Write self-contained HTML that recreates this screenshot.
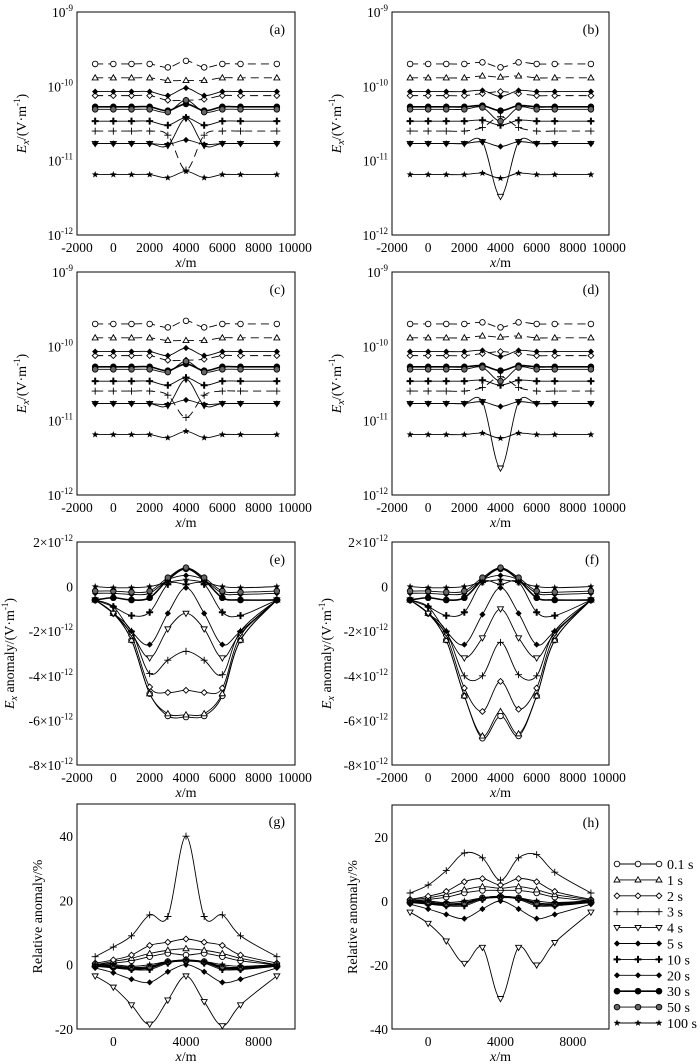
<!DOCTYPE html>
<html><head><meta charset="utf-8">
<style>
html,body{margin:0;padding:0;background:#fff;}
svg{display:block;font-family:"Liberation Serif","DejaVu Serif",serif;}
text{font-family:"Liberation Serif","DejaVu Serif",serif;}
</style></head>
<body>
<svg id="fig" width="700" height="1064" viewBox="0 0 700 1064" font-family="Liberation Serif, serif" xmlns="http://www.w3.org/2000/svg"></svg>
<script>
const xs=[-1000,0,1000,2000,3000,4000,5000,6000,7000,9000];
const seriesNames=['0.1 s','1 s','2 s','3 s','4 s','5 s','10 s','20 s','30 s','50 s','100 s'];
const markerTypes=['circle','tri','diamond','plus','tridown','fdiamond','fplus','fdiamond','fcircle','hex','star'];
// log panels, values in units of 1e-11 V/m
const panelA=[
[20,20,20,20,18,22,18,20,20,20],
[13,13,13,13,12,12,12,13,13,13],
[7.5,7.5,7.5,7.5,6.5,6.5,6.7,7.5,7.5,7.5],
[2.5,2.5,2.5,2.5,2.2,0.75,2.2,2.5,2.5,2.5],
[1.7,1.7,1.7,1.7,1.6,3.7,1.6,1.7,1.7,1.7],
[1.7,1.7,1.7,1.7,1.65,1.9,1.65,1.7,1.7,1.7],
[3.4,3.4,3.4,3.4,3.0,3.8,3.0,3.4,3.4,3.4],
[8.5,8.5,8.5,8.5,7.5,9.5,7.5,8.5,8.5,8.5],
[5.3,5.3,5.3,5.3,4.7,5.8,4.7,5.3,5.3,5.3],
[4.9,4.9,4.9,4.9,4.5,6.5,4.5,4.9,4.9,4.9],
[0.65,0.65,0.65,0.65,0.59,0.72,0.59,0.65,0.65,0.65]];
const panelB=[
[20,20,20,20,21,18,21,20,20,20],
[13,13,13,13,13.8,13.3,13.8,13,13,13],
[7.5,7.5,7.5,7.5,8,8.5,8,7.5,7.5,7.5],
[2.5,2.5,2.5,2.5,2.8,3.9,2.8,2.5,2.5,2.5],
[1.7,1.7,1.7,1.7,1.8,0.33,1.8,1.7,1.7,1.7],
[1.7,1.7,1.7,1.7,1.8,1.55,1.8,1.7,1.7,1.7],
[3.4,3.4,3.4,3.4,3.5,3.0,3.5,3.4,3.4,3.4],
[8.5,8.5,8.5,8.5,8.8,7.3,8.8,8.5,8.5,8.5],
[5.3,5.3,5.3,5.3,5.5,4.7,5.5,5.3,5.3,5.3],
[4.9,4.9,4.9,4.9,5.2,3.4,5.2,4.9,4.9,4.9],
[0.65,0.65,0.65,0.65,0.68,0.58,0.68,0.65,0.65,0.65]];
const panelC=[
[20,20,20,20,18,22,18,20,20,20],
[13,13,13,13,12,12,12,13,13,13],
[7.5,7.5,7.5,7.5,6.5,6.5,6.7,7.5,7.5,7.5],
[2.5,2.5,2.5,2.5,2.2,1.1,2.2,2.5,2.5,2.5],
[1.7,1.7,1.7,1.7,1.6,3.6,1.6,1.7,1.7,1.7],
[1.7,1.7,1.7,1.7,1.65,1.9,1.65,1.7,1.7,1.7],
[3.4,3.4,3.4,3.4,3.0,3.8,3.0,3.4,3.4,3.4],
[8.5,8.5,8.5,8.5,7.5,9.5,7.5,8.5,8.5,8.5],
[5.3,5.3,5.3,5.3,4.7,5.8,4.7,5.3,5.3,5.3],
[4.9,4.9,4.9,4.9,4.5,6.3,4.5,4.9,4.9,4.9],
[0.65,0.65,0.65,0.65,0.59,0.72,0.59,0.65,0.65,0.65]];
const panelD=[
[20,20,20,20,21,18,21,20,20,20],
[13,13,13,13,13.8,13.3,13.8,13,13,13],
[7.5,7.5,7.5,7.5,8,8.5,8,7.5,7.5,7.5],
[2.5,2.5,2.5,2.5,2.8,3.9,2.8,2.5,2.5,2.5],
[1.7,1.7,1.7,1.7,1.8,0.23,1.8,1.7,1.7,1.7],
[1.7,1.7,1.7,1.7,1.8,1.55,1.8,1.7,1.7,1.7],
[3.4,3.4,3.4,3.4,3.5,3.0,3.5,3.4,3.4,3.4],
[8.5,8.5,8.5,8.5,8.8,7.3,8.8,8.5,8.5,8.5],
[5.3,5.3,5.3,5.3,5.5,4.7,5.5,5.3,5.3,5.3],
[4.9,4.9,4.9,4.9,5.2,3.4,5.2,4.9,4.9,4.9],
[0.65,0.65,0.65,0.65,0.68,0.58,0.68,0.65,0.65,0.65]];
// anomaly panels, units of 1e-12 V/m
const panelE=[
[-0.6,-1.2,-2.4,-4.8,-5.8,-5.85,-5.8,-4.9,-2.4,-0.6],
[-0.6,-1.2,-2.4,-4.8,-5.7,-5.75,-5.7,-4.8,-2.4,-0.6],
[-0.6,-1.2,-2.2,-4.5,-4.75,-4.65,-4.75,-4.55,-2.2,-0.6],
[-0.6,-1.2,-2.0,-3.9,-3.3,-2.9,-3.3,-3.95,-2.0,-0.6],
[-0.6,-1.2,-2.1,-3.2,-1.9,-1.2,-1.9,-3.2,-2.1,-0.6],
[-0.6,-0.9,-2.0,-2.6,-1.2,-0.05,-1.2,-2.6,-2.0,-0.6],
[-0.6,-0.9,-1.3,-1.15,0.1,0.1,0.1,-1.15,-1.3,-0.6],
[-0.3,-0.3,-0.35,-0.3,0.3,0.5,0.3,-0.3,-0.35,-0.3],
[-0.6,-0.5,-0.6,-0.5,0.3,0.8,0.3,-0.5,-0.6,-0.6],
[-0.2,-0.2,-0.25,-0.2,0.4,0.85,0.4,-0.2,-0.25,-0.2],
[0,-0.05,-0.05,0,0.2,0.3,0.2,0,-0.05,0]];
const panelF=[
[-0.6,-1.2,-2.4,-4.9,-6.8,-5.8,-6.7,-4.9,-2.4,-0.6],
[-0.6,-1.2,-2.4,-4.9,-6.7,-5.6,-6.6,-4.9,-2.4,-0.6],
[-0.6,-1.2,-2.2,-4.55,-5.6,-4.25,-5.5,-4.55,-2.2,-0.6],
[-0.6,-1.2,-2.0,-4.0,-4.0,-2.5,-3.95,-4.0,-2.0,-0.6],
[-0.6,-1.2,-2.1,-3.2,-2.3,-1.0,-2.3,-3.2,-2.1,-0.6],
[-0.6,-0.9,-2.0,-2.6,-1.25,-0.05,-1.2,-2.6,-2.0,-0.6],
[-0.6,-0.9,-1.3,-1.15,0.2,0.1,0.2,-1.15,-1.3,-0.6],
[-0.3,-0.3,-0.35,-0.3,0.3,0.5,0.3,-0.3,-0.35,-0.3],
[-0.6,-0.5,-0.6,-0.5,0.3,0.8,0.3,-0.5,-0.6,-0.6],
[-0.2,-0.2,-0.25,-0.2,0.4,0.85,0.4,-0.2,-0.25,-0.2],
[0,-0.05,-0.05,0,0.2,0.3,0.2,0,-0.05,0]];
// relative anomaly panels, %
const panelG=[
[0,0.5,1.2,2.5,3.5,3,3.5,2.5,1.2,0],
[0,1,2,3.5,4.5,5,4.5,3.5,2,0],
[0.5,1.5,3,6,7,8,7,6,3,0.5],
[2.5,5.5,9,15.5,15,40,15,15.5,9,2.5],
[-3.5,-7,-12.5,-18.5,-11,-3.5,-11.5,-19,-12.5,-3.5],
[-1,-2.5,-4.5,-5.5,-2.2,0,-2.2,-5.5,-4.5,-1],
[-0.5,-1,-1.5,-1.5,0.5,1.5,0.5,-1.5,-1.5,-0.5],
[0,-0.5,-1,-0.5,1,1.5,1,-0.5,-1,0],
[-0.3,-0.8,-1.2,-1,0.8,1.2,0.8,-1,-1.2,-0.3],
[0.2,-0.3,-0.8,-0.6,1,1.4,1,-0.6,-0.8,0.2],
[0,0,-0.5,0,1,1.5,1,0,-0.5,0]];
const panelH=[
[0,0.5,1.2,2.5,3.3,3.3,3.3,2.5,1.2,0],
[0.3,1,2,3.5,4.5,4,4.5,3.5,2,0.3],
[0.5,1.5,3,6,7,5,7,6,3,0.5],
[2.5,5,9.5,15,13.5,6.5,13.5,14.5,9,2.5],
[-3.5,-7,-12.5,-19.5,-14.5,-30.5,-14.5,-20,-13,-3.5],
[-1,-2.5,-4.2,-5.5,-2.5,0,-2.5,-5.5,-4.2,-1],
[-0.5,-1,-1.5,-1.5,0.5,1.5,0.5,-1.5,-1.5,-0.5],
[0,-0.5,-1,-0.5,1,1.5,1,-0.5,-1,0],
[-0.3,-0.8,-1.2,-1,0.8,1.2,0.8,-1,-1.2,-0.3],
[0.2,-0.3,-0.8,-0.6,1,1.4,1,-0.6,-0.8,0.2],
[0,0,-0.5,0,1,1.5,1,0,-0.5,0]];
const xTicksFull=[-2000,0,2000,4000,6000,8000,10000];
const xTicksRel=[0,4000,8000];
const logTicks=[-9,-10,-11,-12];
const anomTicks=[2,0,-2,-4,-6,-8];
const relTicksG=[40,20,0,-20];
const relTicksH=[20,0,-20,-40];

const NS='http://www.w3.org/2000/svg';
const svg=document.getElementById('fig');
function el(tag,attrs,parent){const e=document.createElementNS(NS,tag);for(const k in attrs)e.setAttribute(k,attrs[k]);(parent||svg).appendChild(e);return e;}
function crPath(pts){let d='M'+pts[0][0].toFixed(2)+','+pts[0][1].toFixed(2);
 for(let i=0;i<pts.length-1;i++){const p0=pts[Math.max(0,i-1)],p1=pts[i],p2=pts[i+1],p3=pts[Math.min(pts.length-1,i+2)];
  const c1=[p1[0]+(p2[0]-p0[0])/6,p1[1]+(p2[1]-p0[1])/6],c2=[p2[0]-(p3[0]-p1[0])/6,p2[1]-(p3[1]-p1[1])/6];
  d+='C'+c1[0].toFixed(2)+','+c1[1].toFixed(2)+' '+c2[0].toFixed(2)+','+c2[1].toFixed(2)+' '+p2[0].toFixed(2)+','+p2[1].toFixed(2);}
 return d;}
function marker(g,type,x,y){
 const s=2.6;let m;
 if(type==='circle'){m=el('circle',{cx:x,cy:y,r:2.8,fill:'#fff',stroke:'#000','stroke-width':0.9},g);}
 else if(type==='fcircle'){m=el('circle',{cx:x,cy:y,r:3.3,fill:'#000'},g);}
 else if(type==='hex'){m=el('circle',{cx:x,cy:y,r:2.8,fill:'#666',stroke:'#000','stroke-width':0.9},g);}
 else if(type==='tri'){m=el('polygon',{points:`${x},${y-s-0.5} ${x+s+0.4},${y+s-0.5} ${x-s-0.4},${y+s-0.5}`,fill:'#fff',stroke:'#000','stroke-width':0.9},g);}
 else if(type==='tridown'){m=el('polygon',{points:`${x},${y+s+0.5} ${x+s+0.4},${y-s+0.5} ${x-s-0.4},${y-s+0.5}`,fill:'#fff',stroke:'#000','stroke-width':0.9},g);}
 else if(type==='diamond'){m=el('polygon',{points:`${x},${y-s-0.3} ${x+s+0.3},${y} ${x},${y+s+0.3} ${x-s-0.3},${y}`,fill:'#fff',stroke:'#000','stroke-width':0.9},g);}
 else if(type==='fdiamond'){m=el('polygon',{points:`${x},${y-s-0.5} ${x+s+0.5},${y} ${x},${y+s+0.5} ${x-s-0.5},${y}`,fill:'#000'},g);}
 else if(type==='plus'){m=el('path',{d:`M${x-3.5},${y}H${x+3.5}M${x},${y-3.5}V${y+3.5}`,stroke:'#000','stroke-width':0.9,fill:'none'},g);}
 else if(type==='fplus'){m=el('path',{d:`M${x-3.5},${y}H${x+3.5}M${x},${y-3.5}V${y+3.5}`,stroke:'#000','stroke-width':2,fill:'none'},g);}
 else if(type==='star'){let p=[];for(let k=0;k<10;k++){const r=k%2?1.5:3.6,a=-Math.PI/2+k*Math.PI/5;p.push((x+r*Math.cos(a)).toFixed(2)+','+(y+r*Math.sin(a)).toFixed(2));}
  m=el('polygon',{points:p.join(' '),fill:'#000'},g);}
 
 
}
function sup(t,base,exp){const a=el('tspan',{},t);a.textContent=base;const b=el('tspan',{'font-size':9,dy:-6},t);b.textContent=exp;}

function panel(o){
 const g=el('g',{});
 
 
 const L=o.x0,R=o.x1,T=o.y0,B=o.y1;
 const xScale=v=>L+(v-o.xmin)/(o.xmax-o.xmin)*(R-L);
 const yScale=o.log?(v=>T+(o.ymaxExp-Math.log10(v*1e-11))/(o.ymaxExp-o.yminExp)*(B-T)):(v=>T+(o.ymax-v)/(o.ymax-o.ymin)*(B-T));
 const frame=el('rect',{x:L,y:T,width:R-L,height:B-T,fill:'none',stroke:'#000','stroke-width':1},g);
 
 
 o.xticks.forEach(v=>{const t=el('text',{x:xScale(v),y:B+17,'text-anchor':'middle','font-size':13.5},g);t.textContent=v;
  
  });
 o.yticks.forEach(v=>{let y;const t=el('text',{'text-anchor':'end','font-size':13.5},g);
  if(o.log){y=T+(o.ymaxExp-v)/(o.ymaxExp-o.yminExp)*(B-T);sup(t,'10',String(v));}
  else if(o.sci){y=yScale(v);if(v===0){t.textContent='0';}else sup(t,v+'×10','-12');}
  else{y=yScale(v);t.textContent=v;}
  t.setAttribute('x',L-4);t.setAttribute('y',y+5);
  
  });
 const xt=el('text',{x:(L+R)/2,y:B+32,'text-anchor':'middle','font-size':14},g);
 const i1=el('tspan',{'font-style':'italic'},xt);i1.textContent='x';const i2=el('tspan',{},xt);i2.textContent='/m';
 
 
 const cy=(T+B)/2,tx=o.ytx;
 const yt=el('text',{x:tx,y:cy,'text-anchor':'middle','font-size':14,transform:`rotate(-90 ${tx} ${cy})`},g);
 if(o.rel){yt.textContent='Relative anomaly/%';}
 else{const a=el('tspan',{'font-style':'italic'},yt);a.textContent='E';const b=el('tspan',{'font-style':'italic','font-size':10,dy:3},yt);b.textContent='x';
  const c=el('tspan',{dy:-3},yt);c.textContent=(o.sci?' anomaly':'')+'/(V·m';const d=el('tspan',{'font-size':9,dy:-6},yt);d.textContent='-1';const e=el('tspan',{dy:6},yt);e.textContent=')';}
 
 
 const lb=el('text',{x:R-10,y:T+22,'text-anchor':'end','font-size':14},g);lb.textContent='('+o.label+')';
 
 
 o.data.forEach((vals,si)=>{
  const sg=el('g',{},g);
  
  
  const pts=vals.map((v,i)=>[xScale(xs[i]),yScale(v)]);
  const dashed=o.log&&si<4;
  const p=el('path',{d:crPath(pts),fill:'none',stroke:'#000','stroke-width':si===8?1.6:0.9,'stroke-dasharray':dashed?'8,5':'none'},sg);
  
  
  pts.forEach(q=>marker(sg,markerTypes[si],q[0],q[1]));
 });
}
const logOpts={log:true,ymaxExp:-9,yminExp:-12,yticks:logTicks,xmin:-2000,xmax:10000,xticks:xTicksFull};
panel(Object.assign({},logOpts,{label:'a',x0:77,x1:295,y0:12,y1:235,ytx:26,data:panelA}));
panel(Object.assign({},logOpts,{label:'b',x0:392,x1:609,y0:12,y1:235,ytx:341,data:panelB}));
panel(Object.assign({},logOpts,{label:'c',x0:77,x1:295,y0:272,y1:495,ytx:26,data:panelC}));
panel(Object.assign({},logOpts,{label:'d',x0:392,x1:609,y0:272,y1:495,ytx:341,data:panelD}));
const anOpts={sci:true,ymax:2,ymin:-8,yticks:anomTicks,xmin:-2000,xmax:10000,xticks:xTicksFull};
panel(Object.assign({},anOpts,{label:'e',x0:77,x1:295,y0:542,y1:765,ytx:14,data:panelE}));
panel(Object.assign({},anOpts,{label:'f',x0:392,x1:609,y0:542,y1:765,ytx:331,data:panelF}));
panel({rel:true,label:'g',x0:77,x1:295,y0:804,y1:1029,ymax:50,ymin:-20,yticks:relTicksG,xmin:-2000,xmax:10000,xticks:xTicksRel,ytx:42,data:panelG});
panel({rel:true,label:'h',x0:392,x1:609,y0:805,y1:1029,ymax:30,ymin:-40,yticks:relTicksH,xmin:-2000,xmax:10000,xticks:xTicksRel,ytx:357,data:panelH});
const lg=el('g',{});


seriesNames.forEach((n,i)=>{
 const y=864+i*15.9;
 const eg=el('g',{},lg);
 
 
 el('line',{x1:617,x2:659,y1:y,y2:y,stroke:'#000','stroke-width':i===8?1.6:0.9},eg);
 [617,638,659].forEach(x=>marker(eg,markerTypes[i],x,y));
 const t=el('text',{x:667,y:y+5,'font-size':14},eg);t.textContent=n;
});
</script>
</body></html>
